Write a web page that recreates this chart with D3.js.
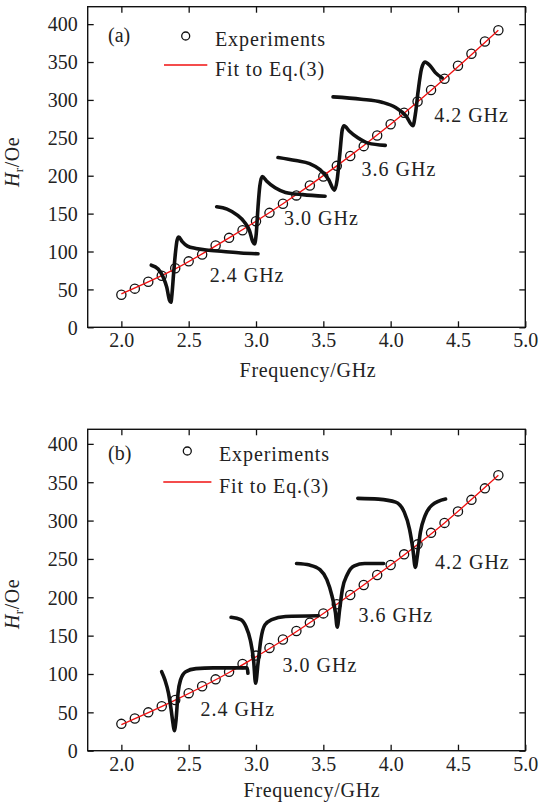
<!DOCTYPE html>
<html>
<head>
<meta charset="utf-8">
<title>Hr vs frequency</title>
<script src="https://cdn.jsdelivr.net/npm/d3@7"></script>
<style>
  body { margin: 0; background: #fff; }
  svg text { font-family: "Liberation Serif", "Times New Roman", serif; fill: #222; }
</style>
</head>
<body>
<svg id="chart" width="539" height="804"></svg>
<script>
// ---- data ----
const freqs = [2.0, 2.1, 2.2, 2.3, 2.4, 2.5, 2.6, 2.7, 2.8, 2.9, 3.0, 3.1, 3.2, 3.3, 3.4,
               3.5, 3.6, 3.7, 3.8, 3.9, 4.0, 4.1, 4.2, 4.3, 4.4, 4.5, 4.6, 4.7, 4.8];
const expA = [43, 51, 60, 68, 78, 87, 96, 108, 118, 128, 140, 151, 163, 174, 187,
              199, 213, 226, 239, 253, 268, 283, 298, 313, 328, 345, 361, 377, 392];
const expB = [35, 42, 50, 58, 66, 75, 84, 93, 103, 113, 124, 134, 145, 156, 167,
              179, 191, 203, 216, 229, 242, 256, 269, 284, 297, 312, 327, 342, 359];

const fitFreqs = [2.0, 2.4, 2.8, 3.2, 3.6, 4.0, 4.4, 4.8];
const fitA = [44, 77, 118, 163, 213, 268, 328, 392];
const fitB = [34, 66, 102, 144, 191, 242, 297, 359];

// field-swept spectra, panel (a)
const specA24 = [[2.222, 82], [2.273, 77], [2.311, 66], [2.337, 53], [2.357, 36], [2.368, 33],
                 [2.376, 44], [2.388, 71], [2.401, 97], [2.414, 115], [2.426, 119], [2.452, 113],
                 [2.491, 107], [2.554, 104], [2.631, 102], [2.759, 100], [2.887, 98], [3.015, 97]];
const specA30 = [[2.708, 159], [2.785, 156], [2.861, 148], [2.913, 139], [2.951, 128], [2.976, 113],
                 [2.989, 110], [3.002, 124], [3.015, 159], [3.028, 186], [3.046, 199], [3.078, 193],
                 [3.142, 184], [3.219, 178], [3.347, 175], [3.513, 173]];
const specA36 = [[3.163, 224], [3.296, 220], [3.398, 216], [3.475, 208], [3.539, 195], [3.583, 181],
                 [3.603, 195], [3.623, 230], [3.641, 261], [3.654, 266], [3.692, 259], [3.756, 250],
                 [3.833, 243], [3.960, 240]];
const specA42 = [[3.572, 304], [3.781, 301], [3.935, 297], [4.037, 290], [4.114, 279], [4.165, 266],
                 [4.185, 283], [4.203, 310], [4.229, 341], [4.255, 350], [4.293, 345], [4.332, 336],
                 [4.383, 329]];

// panel (b)
const specB24 = [[2.299, 103], [2.324, 92], [2.350, 75], [2.370, 53], [2.383, 36], [2.393, 26],
                 [2.406, 40], [2.421, 75], [2.439, 92], [2.478, 103], [2.554, 107], [2.682, 108],
                 [2.935, 108], [2.940, 101]];
const specB30 = [[2.815, 174], [2.887, 171], [2.925, 162], [2.958, 144], [2.982, 118], [2.997, 88],
                 [3.015, 114], [3.036, 145], [3.066, 164], [3.117, 171], [3.219, 175], [3.462, 176]];
const specB36 = [[3.301, 244], [3.398, 242], [3.475, 236], [3.526, 223], [3.564, 202], [3.590, 180],
                 [3.603, 161], [3.621, 184], [3.641, 210], [3.679, 230], [3.730, 241], [3.807, 244],
                 [3.948, 244]];
const specB42 = [[3.756, 329], [3.909, 328], [4.037, 324], [4.101, 311], [4.140, 289], [4.165, 263],
                 [4.183, 239], [4.198, 254], [4.221, 285], [4.255, 306], [4.306, 320], [4.408, 328]];

const xTicks = [2.0, 2.5, 3.0, 3.5, 4.0, 4.5, 5.0];
const yTicks = [0, 50, 100, 150, 200, 250, 300, 350, 400];
const freqLabels = ["2.4 GHz", "3.0 GHz", "3.6 GHz", "4.2 GHz"];

// ---- layout ----
const left = 87.7, right = 525.3;
const panels = [
  { tag: "(a)", exp: expA, fit: fitA, spectra: [specA24, specA30, specA36, specA42],
    yRange: [327.3, 6.7], yMax: 423,
    labelPos: [[2.656, 69], [3.208, 144], [3.784, 209], [4.323, 280]],
    tagY: 35, legY1: 36, legY2: 65, legTextX: 215, legCircleX: 185.7, legLine: [164, 207.3],
    xLabelX: 308, xLabelY: 370, yLabelY: 162 },
  { tag: "(b)", exp: expB, fit: fitB, spectra: [specB24, specB30, specB36, specB42],
    yRange: [750.7, 429.3], yMax: 419,
    labelPos: [[2.587, 55], [3.197, 112], [3.761, 177], [4.329, 246]],
    tagY: 453.3, legY1: 451, legY2: 482, legTextX: 219, legCircleX: 187.3, legLine: [163.3, 211.4],
    xLabelX: 312, xLabelY: 790, yLabelY: 604 }
];

const svg = d3.select("#chart");
const x = d3.scaleLinear().domain([1.75, 5.0]).range([left, right]);
const red = "#f01010";

panels.forEach(p => {
  const y = d3.scaleLinear().domain([0, p.yMax]).range(p.yRange);
  const g = svg.append("g");
  const top = p.yRange[1], bottom = p.yRange[0];

  // frame with inward ticks on all four sides
  g.append("rect").attr("x", left).attr("y", top)
    .attr("width", right - left).attr("height", bottom - top)
    .attr("fill", "none").attr("stroke", "#111").attr("stroke-width", 1.4);

  const axes = [
    [d3.axisBottom(x).tickValues(xTicks).tickSize(-6).tickFormat(d3.format(".1f")), `translate(0,${bottom})`],
    [d3.axisTop(x).tickValues(xTicks).tickSize(-6).tickFormat(""), `translate(0,${top})`],
    [d3.axisLeft(y).tickValues(yTicks).tickSize(-6), `translate(${left},0)`],
    [d3.axisRight(y).tickValues(yTicks).tickSize(-6).tickFormat(""), `translate(${right},0)`]
  ];
  const sels = axes.map(([a, t]) => {
    const s = g.append("g").attr("transform", t).call(a);
    s.select(".domain").remove();
    s.selectAll(".tick line").attr("stroke", "#111").attr("stroke-width", 1.3);
    s.selectAll(".tick text").attr("font-size", 20).attr("fill", "#222")
      .attr("font-family", "Liberation Serif, serif");
    return s;
  });
  sels[0].selectAll(".tick text").attr("y", 6).attr("dy", "0.71em");
  sels[2].selectAll(".tick text").attr("x", -10).attr("dy", "0.34em");

  // experiments
  g.selectAll("circle.exp").data(freqs.map((f, i) => [f, p.exp[i]])).join("circle")
    .attr("class", "exp")
    .attr("cx", d => x(d[0])).attr("cy", d => y(d[1])).attr("r", 4.6)
    .attr("fill", "none").attr("stroke", "#111").attr("stroke-width", 1.3);

  // fit line
  g.append("path")
    .datum(fitFreqs.map((f, i) => [f, p.fit[i]]))
    .attr("fill", "none").attr("stroke", red).attr("stroke-width", 1.3)
    .attr("d", d3.line().x(d => x(d[0])).y(d => y(d[1])).curve(d3.curveMonotoneX));

  // spectra
  const line = d3.line().x(d => x(d[0])).y(d => y(d[1])).curve(d3.curveMonotoneX);
  p.spectra.forEach(s => {
    g.append("path").datum(s).attr("d", line)
      .attr("fill", "none").attr("stroke", "#111").attr("stroke-width", 3.6)
      .attr("stroke-linecap", "round").attr("stroke-linejoin", "round");
  });

  // frequency labels
  p.labelPos.forEach((lp, i) => {
    g.append("text").attr("x", x(lp[0])).attr("y", y(lp[1])).attr("dy", "0.35em")
      .attr("font-size", 20).attr("letter-spacing", 1).text(freqLabels[i]);
  });

  // panel tag
  g.append("text").attr("x", 108).attr("y", p.tagY).attr("dy", "0.35em")
    .attr("font-size", 20).text(p.tag);

  // legend
  g.append("circle").attr("cx", p.legCircleX).attr("cy", p.legY1).attr("r", 4)
    .attr("fill", "none").attr("stroke", "#111").attr("stroke-width", 1.3);
  g.append("text").attr("x", p.legTextX).attr("y", p.legY1 + 2.5).attr("dy", "0.35em")
    .attr("font-size", 20).attr("letter-spacing", 0.9).text("Experiments");
  g.append("line").attr("x1", p.legLine[0]).attr("x2", p.legLine[1])
    .attr("y1", p.legY2).attr("y2", p.legY2)
    .attr("stroke", red).attr("stroke-width", 1.3);
  g.append("text").attr("x", p.legTextX).attr("y", p.legY2 + 3.5).attr("dy", "0.35em")
    .attr("font-size", 20).attr("letter-spacing", 0.9).text("Fit to Eq.(3)");

  // axis titles
  g.append("text").attr("x", p.xLabelX).attr("y", p.xLabelY).attr("dy", "0.35em")
    .attr("text-anchor", "middle").attr("font-size", 20).attr("letter-spacing", 0.7)
    .text("Frequency/GHz");
  const yl = g.append("text")
    .attr("transform", `translate(19,${p.yLabelY}) rotate(-90)`)
    .attr("text-anchor", "middle").attr("font-size", 20).attr("letter-spacing", 0.5);
  yl.append("tspan").attr("font-style", "italic").text("H");
  yl.append("tspan").attr("font-size", 13).attr("dy", 4).text("r");
  yl.append("tspan").attr("dy", -4).text("/Oe");
});
</script>
</body>
</html>
